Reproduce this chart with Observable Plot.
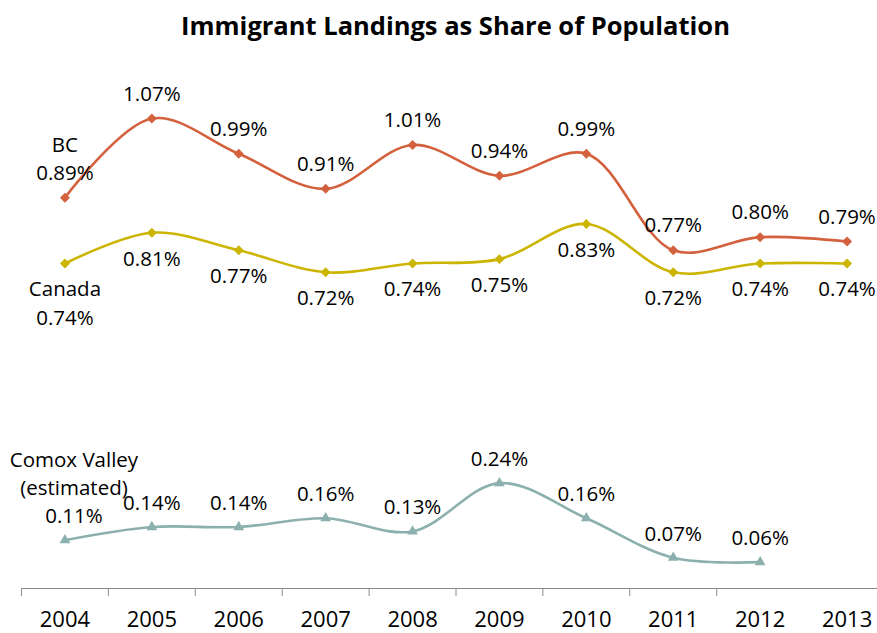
<!DOCTYPE html>
<html>
<head>
<meta charset="utf-8">
<script src="https://cdn.jsdelivr.net/npm/d3@7"></script>
<script src="https://cdn.jsdelivr.net/npm/@observablehq/plot@0.6"></script>
<style>
  html, body { margin: 0; padding: 0; background: #fff; }
  #title { height: 50px; line-height: 50px; padding-left: 34px; text-align: center;
           font-family: "Open Sans", sans-serif; font-weight: bold; font-size: 25.5px; color: #000; white-space: nowrap; }
  #chart svg { display: block; }
</style>
</head>
<body>
<div id="title">Immigrant Landings as Share of Population</div>
<div id="chart"></div>
<script>
const years = [2004, 2005, 2006, 2007, 2008, 2009, 2010, 2011, 2012, 2013];
const bc = [0.89, 1.07, 0.99, 0.91, 1.01, 0.94, 0.99, 0.77, 0.80, 0.79];
const canada = [0.74, 0.81, 0.77, 0.72, 0.74, 0.75, 0.83, 0.72, 0.74, 0.74];
const comox = [0.11, 0.14, 0.14, 0.16, 0.13, 0.24, 0.16, 0.07, 0.06, null];
const seriesNames = ["BC", "Canada", "Comox Valley\n(estimated)"];
const colors = ["#D4613E", "#CCB500", "#8BB0AE"];

function rows(values, name) {
  return years.map((year, i) => ({
    year, value: values[i], series: name, first: i === 0,
    label: values[i] == null ? null : (i === 0 ? name + "\n" : "") + values[i].toFixed(2) + "%"
  })).filter(d => d.value != null);
}
const bcRows = rows(bc, seriesNames[0]);
const caRows = rows(canada, seriesNames[1]);
const cvRows = rows(comox, seriesNames[2]);
const boundaries = years.slice(0, -1).map(y => y - 0.5);

const font = "Open Sans, sans-serif";
const labelSize = 20.5;
const textOpts = { x: "year", y: "value", text: "label", fontSize: labelSize, lineHeight: 1.37, fill: "#000" };

const chart = Plot.plot({
  width: 877,
  height: 583,
  marginLeft: 21,
  marginRight: 0,
  marginTop: 11,
  marginBottom: 45,
  style: { fontFamily: font, background: "#fff", color: "#000" },
  x: { type: "linear", domain: [2003.5, 2013.5], range: [21, 890], label: null },
  y: { domain: [0, 1.2], axis: null, label: null },
  marks: [
    Plot.ruleY([0], { stroke: "#8C8C8C", strokeWidth: 1 }),
    Plot.axisX({ ticks: boundaries, tickSize: 8, tickFormat: () => "", stroke: "#8C8C8C", strokeOpacity: 1, label: null }),
    Plot.axisX({ ticks: years, tickSize: 0, tickPadding: 23, tickFormat: d => String(d), fontSize: 22, fill: "#000", label: null }),
    Plot.line(bcRows, { x: "year", y: "value", stroke: colors[0], strokeWidth: 2.6, curve: "catmull-rom" }),
    Plot.line(caRows, { x: "year", y: "value", stroke: colors[1], strokeWidth: 2.6, curve: "catmull-rom" }),
    Plot.line(cvRows, { x: "year", y: "value", stroke: colors[2], strokeWidth: 2.6, curve: "catmull-rom" }),
    Plot.dot(bcRows, { x: "year", y: "value", symbol: "diamond2", r: 4.5, fill: colors[0], stroke: null }),
    Plot.dot(caRows, { x: "year", y: "value", symbol: "diamond2", r: 4.5, fill: colors[1], stroke: null }),
    Plot.dot(cvRows, { x: "year", y: "value", symbol: "triangle", r: 4, fill: colors[2], stroke: null }),
    Plot.text(bcRows, { ...textOpts, lineAnchor: "bottom", dy: -18 }),
    Plot.text(caRows, { ...textOpts, lineAnchor: "top", dy: 13 }),
    Plot.text(cvRows.filter(d => !d.first), { ...textOpts, lineAnchor: "bottom", dy: -17 }),
    Plot.text(cvRows.filter(d => d.first), { ...textOpts, lineAnchor: "bottom", dy: -17, dx: 9 })
  ]
});
document.getElementById("chart").appendChild(chart);
</script>
</body>
</html>
